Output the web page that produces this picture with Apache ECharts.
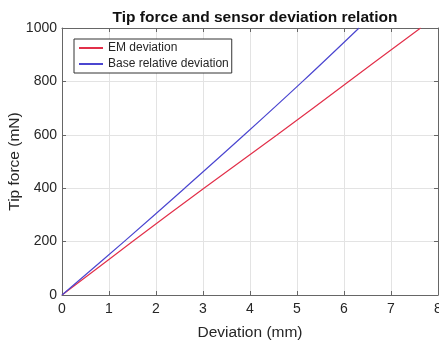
<!DOCTYPE html>
<html>
<head>
<meta charset="utf-8">
<script src="https://cdn.jsdelivr.net/npm/echarts@6/dist/echarts.min.js"></script>
<style>
html,body{margin:0;padding:0;background:#fff;}
#chart{width:439px;height:340px;}
</style>
</head>
<body>
<div id="chart"></div>
<script>
const titleText = "Tip force and sensor deviation relation";
const xAxisName = "Deviation (mm)";
const yAxisName = "Tip force (mN)";
const seriesNames = ["EM deviation", "Base relative deviation"];
const forceValues = [0, 200, 400, 600, 800, 1000];
const emDeviation = [0, 1.5, 3.02, 4.58, 6.1, 7.63];
const baseDeviation = [0, 1.32, 2.61, 3.88, 5.12, 6.32];

const font = "'Liberation Sans', Arial, sans-serif";
const axisColor = "#666";
const textColor = "#262626";

function pairs(xs, ys) { return xs.map((x, i) => [x, ys[i]]); }

const chart = echarts.init(document.getElementById('chart'), null, {renderer: 'canvas'});
const baseX = {
  type: 'value', min: 0, max: 8, interval: 1,
  axisLine: {show: true, onZero: false, lineStyle: {color: axisColor, width: 1}},
  axisTick: {show: true, inside: true, length: 4, lineStyle: {color: axisColor}},
  splitLine: {show: false}
};
const baseY = {
  type: 'value', min: 0, max: 1000, interval: 200,
  axisLine: {show: true, onZero: false, lineStyle: {color: axisColor, width: 1}},
  axisTick: {show: true, inside: true, length: 4, lineStyle: {color: axisColor}},
  splitLine: {show: false}
};
chart.setOption({
  animation: false,
  backgroundColor: '#fff',
  title: {
    text: titleText, left: 250, textAlign: 'center', top: 5,
    textStyle: {fontFamily: font, fontSize: 15.5, fontWeight: 'bold', color: '#111'}
  },
  legend: {
    orient: 'vertical', left: 74, top: 39,
    backgroundColor: '#fff', borderColor: '#333', borderWidth: 1, borderRadius: 0,
    padding: [3, 3, 3, 4], itemGap: 4, itemWidth: 24, itemHeight: 12,
    itemStyle: {opacity: 0},
    textStyle: {fontFamily: font, fontSize: 12, color: textColor},
    data: seriesNames
  },
  grid: {left: 62, right: 1, top: 28, bottom: 45, containLabel: false, outerBoundsMode: 'none'},
  xAxis: [
    Object.assign({}, baseX, {
      position: 'bottom',
      name: xAxisName, nameLocation: 'middle', nameGap: 30, nameMoveOverlap: false,
      nameTextStyle: {fontFamily: font, fontSize: 15.5, color: textColor},
      axisLabel: {fontFamily: font, fontSize: 14, color: textColor, margin: 7},
      splitLine: {show: true, lineStyle: {color: '#e3e3e3', width: 1}}
    }),
    Object.assign({}, baseX, {position: 'top', axisLabel: {show: false}})
  ],
  yAxis: [
    Object.assign({}, baseY, {
      position: 'left',
      name: yAxisName, nameLocation: 'middle', nameGap: 39, nameMoveOverlap: false,
      nameTextStyle: {fontFamily: font, fontSize: 15.5, color: textColor},
      axisLabel: {fontFamily: font, fontSize: 14, color: textColor, margin: 5,
        formatter: v => String(v)},
      splitLine: {show: true, lineStyle: {color: '#e3e3e3', width: 1}}
    }),
    Object.assign({}, baseY, {position: 'right', axisLabel: {show: false}})
  ],
  series: [
    {
      name: seriesNames[0], type: 'line', symbol: 'none', smooth: 0.4,
      data: pairs(emDeviation, forceValues),
      lineStyle: {color: '#e2304a', width: 1.2}, itemStyle: {color: '#e2304a'}
    },
    {
      name: seriesNames[1], type: 'line', symbol: 'none', smooth: 0.4,
      data: pairs(baseDeviation, forceValues),
      lineStyle: {color: '#4b46d0', width: 1.2}, itemStyle: {color: '#4b46d0'}
    }
  ]
});
</script>
</body>
</html>
